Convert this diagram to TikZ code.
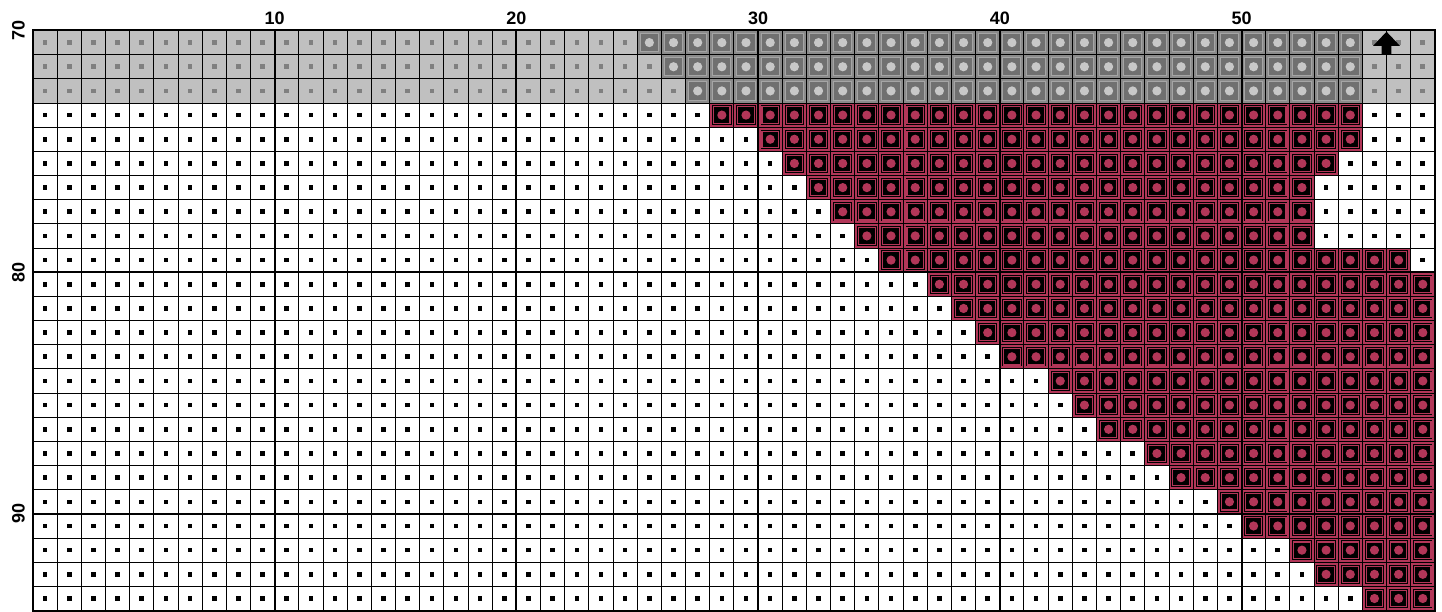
\documentclass[tikz,border=0pt]{standalone}
\usepackage{fontspec}
\setmainfont{Liberation Sans}
\definecolor{crim}{RGB}{178,54,88}
\definecolor{bggray}{RGB}{192,192,192}
\definecolor{mkgray}{RGB}{128,128,128}
\definecolor{dgout}{RGB}{138,138,138}
\definecolor{dgin}{RGB}{112,112,112}
\definecolor{dgring}{RGB}{165,165,165}
\definecolor{dgdot}{RGB}{200,200,200}
\tikzset{
  lbl/.style={font=\fontsize{18pt}{18pt}\selectfont\bfseries, inner sep=0pt},
  thinline/.style={line width=1pt, draw=black},
  thickline/.style={line width=2pt, draw=black},
}
\begin{document}
\begin{tikzpicture}[x=1pt,y=-1pt]
\fill[white] (0,0) rectangle (1442,612);
\useasboundingbox (0,0) rectangle (1442,612);
\begin{scope}[shift={(33pt,-30.5pt)},x=24.17pt,y=-24.17pt]
  % background of the top band
  \fill[bggray] (0,0) rectangle (58,3);
  % markers
  \foreach \r in {0,1,2} \foreach \c in {0,...,57}
    \fill[mkgray] ([xshift=-2.3pt,yshift=-2.3pt]\c+.5,\r+.5) rectangle ([xshift=2.3pt,yshift=2.3pt]\c+.5,\r+.5);
  \foreach \r in {3,...,23} \foreach \c in {0,...,57}
    \fill[black] ([xshift=-2.3pt,yshift=-2.3pt]\c+.5,\r+.5) rectangle ([xshift=2.3pt,yshift=2.3pt]\c+.5,\r+.5);
  % dark gray stitches
  \foreach \r/\s in {0/25,1/26,2/27} \foreach \c in {\s,...,54} {
    \fill[dgout] (\c,\r) rectangle (\c+1,\r+1);
    \filldraw[fill=dgin,draw=dgring,line width=1pt] ([xshift=3pt,yshift=-3pt]\c,\r) rectangle ([xshift=-3pt,yshift=3pt]\c+1,\r+1);
    \fill[dgdot] (\c+.5,\r+.5) circle (4.6pt);
  }
  % red stitches
  \foreach \r/\s/\e in {3/28/54,4/30/54,5/31/53,6/32/52,7/33/52,8/34/52,9/35/56,
      10/37/57,11/38/57,12/39/57,13/40/57,14/42/57,15/43/57,16/44/57,17/46/57,
      18/47/57,19/49/57,20/50/57,21/52/57,22/53/57,23/55/57} \foreach \c in {\s,...,\e} {
    \fill[crim] (\c,\r) rectangle (\c+1,\r+1);
    \fill[black] ([xshift=2.4pt,yshift=-2.4pt]\c,\r) rectangle ([xshift=-2.4pt,yshift=2.4pt]\c+1,\r+1);
    \draw[crim,line width=1.1pt] ([xshift=3.9pt,yshift=-3.9pt]\c,\r) rectangle ([xshift=-3.9pt,yshift=3.9pt]\c+1,\r+1);
    \fill[crim] (\c+.5,\r+.5) circle (4.6pt);
  }
  % grid lines
  \foreach \i in {0,...,58} \draw[thinline] (\i,0) -- (\i,24);
  \foreach \i in {0,...,24} \draw[thinline] (0,\i) -- (58,\i);
  \foreach \i in {10,20,30,40,50} \draw[thickline] (\i,0) -- (\i,24);
  \foreach \i in {10,20} \draw[thickline] (0,\i) -- (58,\i);
  \draw[thickline] (0,0) rectangle (58,24);
  % arrow
  \fill[black] (56,0.05) -- (56.56,0.64) -- (56.2,0.64) -- (56.2,1.01) -- (55.8,1.01) -- (55.8,0.64) -- (55.44,0.64) -- cycle;
  % labels
  \foreach \v in {10,20,30,40,50} \node[lbl] (col\v) at (\v,-0.52) {\v};
  \node[lbl,rotate=90] (row70) at (-0.6,0) {70};
  \node[lbl,rotate=90] (row80) at (-0.6,10) {80};
  \node[lbl,rotate=90] (row90) at (-0.6,20) {90};
\end{scope}
\end{tikzpicture}
\end{document}
